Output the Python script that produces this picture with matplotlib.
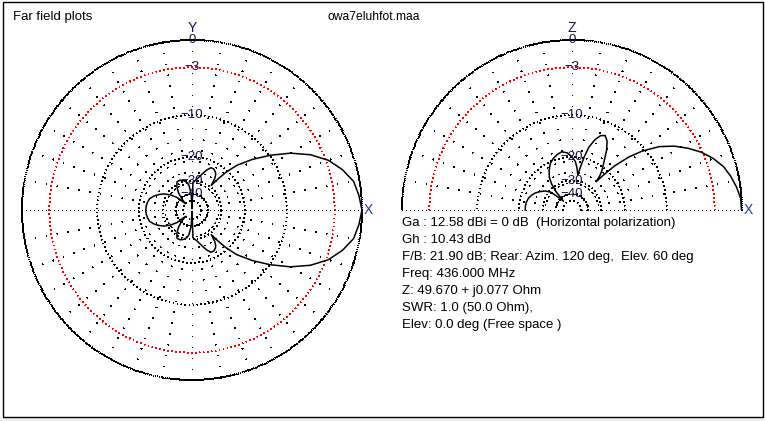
import numpy as np
import matplotlib.pyplot as plt
from matplotlib.patches import Rectangle

plt.rcParams['font.family'] = ['Liberation Sans', 'DejaVu Sans']

# horizontal (azimuth) pattern, upper half 0..180 deg, the lower half is the mirror
az_deg = np.array([0, 5, 10, 15, 20, 25, 30, 35, 40, 45, 48, 50, 52, 54, 56, 58, 62, 66,
                   70, 75, 80, 85, 88, 90, 93, 97, 100, 105, 112, 118, 123, 128, 132,
                   136, 140, 145, 150, 155, 160, 165, 170, 175, 180])
az_db = np.array([0, -0.25, -0.6, -1.5, -2.7, -4.5, -6.9, -9.9, -13.2, -17.0, -20.8, -24.5,
                  -29.0, -25.5, -23.8, -23.0, -22.2, -22.3, -23.8, -26.3, -28.6, -30.2,
                  -31.0, -80.0, -40.0, -33.0, -31.0, -29.5, -28.5, -28.6, -31.0, -35.0,
                  -41.0, -50.0, -37.0, -32.0, -28.5, -26.3, -24.5, -23.2, -22.7, -22.4, -22.3])

# vertical (elevation) pattern 0..180 deg
el_deg = np.array([0, 4, 8, 12, 16, 20, 24, 28, 32, 36, 40, 43, 46, 48, 49.5, 51, 53, 56,
                   60, 63, 66, 69, 72, 75, 77, 79, 80.5, 83, 86, 90, 95, 100, 105, 110,
                   115, 120, 125, 128, 131, 134, 137, 140, 145, 150, 155, 160, 165, 170,
                   175, 180])
el_db = np.array([-0.05, -0.1, -0.4, -0.8, -1.3, -2.1, -3.1, -4.4, -5.9, -7.8, -10.6, -13.4,
                  -17.5, -22.0, -26.0, -23.0, -21.0, -18.8, -15.4, -13.5, -12.6, -13.0,
                  -14.3, -16.5, -19.5, -23.5, -27.0, -24.0, -21.5, -19.9, -18.6, -18.1,
                  -18.6, -19.4, -20.5, -22.5, -25.0, -28.0, -33.0, -45.0, -38.0, -31.0,
                  -28.0, -26.2, -24.6, -23.5, -22.7, -22.3, -22.1, -22.1])

ring_levels = [0, -3, -10, -20, -30, -40, -50]
label_levels = [0, -3, -10, -20, -30, -40]
label_text = ['0', '\u22123', '\u221210', '\u221220', '\u221230', '\u221240']

info_lines = [
    'Ga : 12.58 dBi = 0 dB  (Horizontal polarization)',
    'Gh : 10.43 dBd',
    'F/B: 21.90 dB; Rear: Azim. 120 deg,  Elev. 60 deg',
    'Freq: 436.000 MHz',
    'Z: 49.670 + j0.077 Ohm',
    'SWR: 1.0 (50.0 Ohm),',
    'Elev: 0.0 deg (Free space )',
]


# ARRL style log scale (0.89 per 2 dB)
def arrl(db):
    return 0.89 ** (-np.asarray(db) / 2.0)


def arrl_inv(r):
    return -2.0 * np.log(r) / np.log(0.89)


W, H = 765, 421
fig = plt.figure(figsize=(W / 100, H / 100), dpi=100, facecolor='#f0f0f0')
fig.add_artist(Rectangle((0, 3 / H), 1, 1, transform=fig.transFigure,
                         facecolor='white', edgecolor='none', zorder=-5))
fig.add_artist(Rectangle((2.5 / W, 4 / H), 760 / W, 415 / H, transform=fig.transFigure,
                         facecolor='none', edgecolor='black', lw=1.0, zorder=5))

lab_col = '#14144a'
gw = 0.6  # grid dot width (points)


def make_polar(cx, half):
    ax = fig.add_axes([(cx - 170) / W, (H - 210 - 170) / H, 340 / W, 340 / H],
                      projection='polar')
    ax.set_rscale('function', functions=(arrl, arrl_inv))
    ax.set_rlim(-120, 0)
    ax.set_xticks([])
    ax.set_yticks([])
    ax.grid(False)
    ax.spines['polar'].set_visible(False)
    ax.patch.set_alpha(0)

    t_end = np.pi if half else 2 * np.pi
    th = np.linspace(0, t_end, 1441)
    for lev in ring_levels:
        col = 'red' if lev == -3 else 'black'
        ls = (0, (1.2, 2.4)) if lev == 0 else (0, (1.2, 4.2))
        ax.plot(th, np.full_like(th, lev), color=col, lw=gw, ls=ls,
                antialiased=False, clip_on=False)

    rays = range(0, 181 if half else 360, 10)
    for a in rays:
        t = np.deg2rad(a)
        if a % 180 == 0:
            ls = (0, (1.2, 4.2))
        else:
            ls = (0, (1.2, 13.2))
        ax.plot([t, t], [0, -50], color='black', lw=gw, ls=ls,
                antialiased=False, clip_on=False)

    for lev, txt in zip(label_levels, label_text):
        ax.text(np.pi / 2, lev, txt, ha='center', va='center', fontsize=9.5,
                color=lab_col, zorder=6)
    ax.text(1.0 + 6.5 / 340, 0.5, 'X', transform=ax.transAxes, ha='center',
            va='center', fontsize=10, color='#1e3c8c', zorder=6)
    return ax


ax1 = make_polar(192, False)
ax1.text(0.5, 1.0 + 12 / 340, 'Y', transform=ax1.transAxes, ha='center', va='center',
         fontsize=10, color=lab_col, zorder=6)
th_full = np.concatenate([az_deg, 360 - az_deg[::-1][1:]])
db_full = np.concatenate([az_db, az_db[::-1][1:]])
ax1.plot(np.deg2rad(th_full), db_full, color='black', lw=1.1, clip_on=False, zorder=4)

ax2 = make_polar(572, True)
ax2.text(0.5, 1.0 + 12 / 340, 'Z', transform=ax2.transAxes, ha='center', va='center',
         fontsize=10, color=lab_col, zorder=6)
ax2.plot(np.deg2rad(el_deg), el_db, color='black', lw=1.1, clip_on=False, zorder=4)

fig.text(13 / W, 1 - 17 / H, 'Far field plots', ha='left', va='center', fontsize=9.5)
fig.text(327 / W, 1 - 17 / H, 'owa7eluhfot.maa', ha='left', va='center', fontsize=8.7)

for i, line in enumerate(info_lines):
    fig.text(402 / W, 1 - (223 + 17 * i) / H, line, ha='left', va='center',
             fontsize=9.5)

fig.savefig('out.png', dpi=100, facecolor=fig.get_facecolor())
